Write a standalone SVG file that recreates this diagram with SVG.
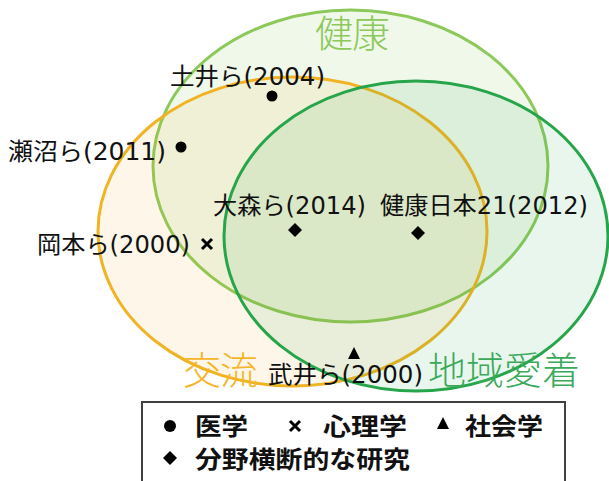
<svg xmlns="http://www.w3.org/2000/svg" width="609" height="481" viewBox="0 0 609 481">
<style>
.lbl{font-family:"DejaVu Sans","Noto Sans CJK JP",sans-serif;font-size:24px;fill:#111}
.big{font-family:"Noto Sans CJK JP",sans-serif;font-size:38px;font-weight:300}
.leg{font-family:"Noto Sans CJK JP",sans-serif;font-size:24px;font-weight:bold;fill:#111}
.mk{fill:#000}
</style>
<rect width="609" height="481" fill="#fff"/>
<g id="sets">
<g id="kenkou"><ellipse cx="350.5" cy="166" rx="197.5" ry="156" fill="#8cc85a" fill-opacity="0.13" stroke="#8cc85a" stroke-width="3"/></g>
<g id="kouryu"><ellipse cx="292.5" cy="231.5" rx="194.5" ry="154.5" fill="#f5b52a" fill-opacity="0.1" stroke="#f0b323" stroke-width="3"/></g>
<g id="chiiki"><ellipse cx="416" cy="236" rx="192" ry="155" fill="#27a54a" fill-opacity="0.1" stroke="#27a54a" stroke-width="3"/></g>
<text class="big" x="315" y="47" fill="#8cc85a" textLength="75">健康</text>
<text class="big" x="183" y="384" fill="#f5b52a" textLength="75">交流</text>
<text class="big" x="428" y="384" fill="#3aaa5a" textLength="152">地域愛着</text>
</g>
<g id="studies">
<g id="doi"><text class="lbl" x="170" y="85" textLength="155" lengthAdjust="spacingAndGlyphs">土井ら(2004)</text><circle class="mk" cx="272" cy="96" r="5.5"/></g>
<g id="senuma"><text class="lbl" x="8" y="160" textLength="158" lengthAdjust="spacingAndGlyphs">瀬沼ら(2011)</text><circle class="mk" cx="181" cy="147" r="5.5"/></g>
<g id="oomori"><text class="lbl" x="213" y="214" textLength="153" lengthAdjust="spacingAndGlyphs">大森ら(2014)</text><path class="mk" d="M295 223 L302 230 L295 237 L288 230 Z"/></g>
<g id="kenkou21"><text class="lbl" x="380" y="214" textLength="208" lengthAdjust="spacingAndGlyphs">健康日本21(2012)</text><path class="mk" d="M418 226 L425 233 L418 240 L411 233 Z"/></g>
<g id="okamoto"><text class="lbl" x="37" y="253" textLength="153" lengthAdjust="spacingAndGlyphs">岡本ら(2000)</text><path d="M202 239 L212 249 M212 239 L202 249" stroke="#000" stroke-width="3"/></g>
<g id="takei"><text class="lbl" x="268" y="383" textLength="155" lengthAdjust="spacingAndGlyphs">武井ら(2000)</text><path class="mk" d="M354 347 L360 359 L348 359 Z"/></g>
</g>
<g id="legend">
<rect x="142" y="402" width="423" height="90" fill="#fff" stroke="#404040" stroke-width="2"/>
<circle class="mk" cx="170" cy="426" r="6"/>
<text class="leg" x="195" y="435" textLength="53" lengthAdjust="spacingAndGlyphs">医学</text>
<path d="M290 421 L300 431 M300 421 L290 431" stroke="#000" stroke-width="3"/>
<text class="leg" x="323" y="435" textLength="84" lengthAdjust="spacingAndGlyphs">心理学</text>
<path class="mk" d="M443 417 L449 429 L437 429 Z"/>
<text class="leg" x="465" y="435" textLength="78" lengthAdjust="spacingAndGlyphs">社会学</text>
<path class="mk" d="M170 451 L177 458 L170 465 L163 458 Z"/>
<text class="leg" x="195" y="468" textLength="215" lengthAdjust="spacingAndGlyphs">分野横断的な研究</text>
</g>
</svg>
